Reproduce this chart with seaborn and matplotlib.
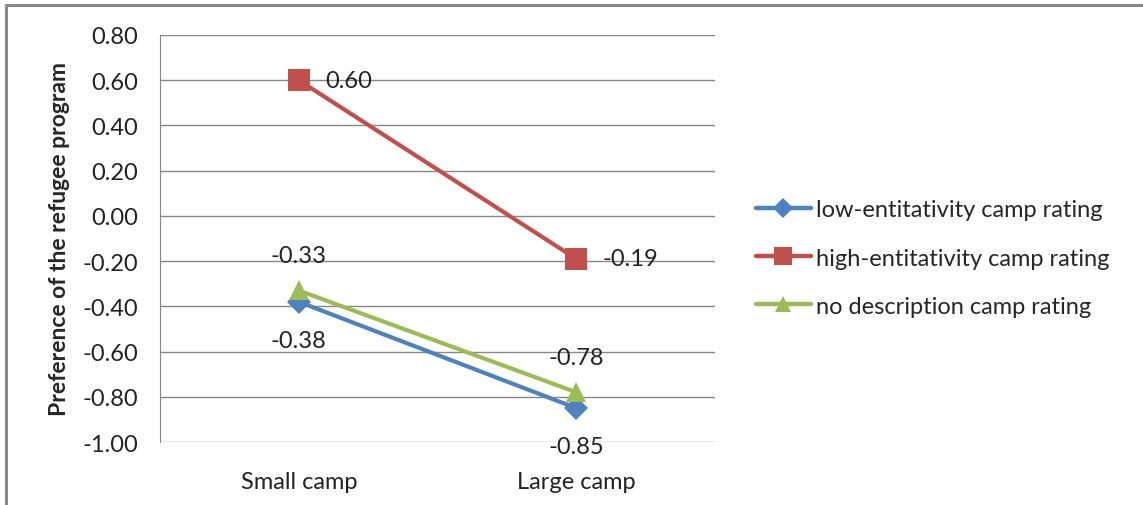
import pandas as pd
import seaborn as sns
import numpy as np
import matplotlib.pyplot as plt
from matplotlib.lines import Line2D

categories = ['Small camp', 'Large camp']
series_names = ['low-entitativity camp rating',
                'high-entitativity camp rating',
                'no description camp rating']
low_vals = [-0.38, -0.85]
high_vals = [0.60, -0.19]
nodesc_vals = [-0.33, -0.78]
yticks = [0.80, 0.60, 0.40, 0.20, 0.00, -0.20, -0.40, -0.60, -0.80, -1.00]

sns.set_style('white')
plt.rcParams['font.family'] = ['Lato', 'DejaVu Sans']

colors = ['#4F81BD', '#C0504D', '#9BBB59']
markers = ['D', 's', '^']
msizes = [12, 16, 14]
# label offsets (points) from each data point, per series
label_off = [(0, -28), (19, 0), (0, 25)]
label_ha = ['center', 'left', 'center']
fs = 17

data = pd.DataFrame({
    'camp': categories * 3,
    'series': np.repeat(series_names, 2),
    'value': low_vals + high_vals + nodesc_vals,
})

fig = plt.figure(figsize=(11.43, 5.06), dpi=100)
ax = fig.add_axes([0.140, 0.1245, 0.4855, 0.8044])

for i, name in enumerate(series_names):
    sub = data[data.series == name]
    x = np.arange(len(categories))
    ax.plot(x, sub.value.values, color=colors[i], lw=3, marker=markers[i],
            markersize=msizes[i], markeredgewidth=0, zorder=3)
    for xi, v in zip(x, sub.value.values):
        ax.annotate(f'{v:.2f}', (xi, v), xytext=label_off[i],
                    textcoords='offset points', ha=label_ha[i], va='center',
                    fontsize=fs, color='#222222')

ax.set_xlim(-0.5, 1.5)
ax.set_ylim(-1.0, 0.8)
ax.set_xticks(range(len(categories)))
ax.set_xticklabels(categories, fontsize=fs, color='#222222')
ax.set_yticks(yticks)
ax.set_yticklabels([f'{t:.2f}' for t in yticks], fontsize=fs, color='#222222')
ax.tick_params(axis='x', length=0, pad=21)
ax.tick_params(axis='y', length=6, width=1, color='#888888', pad=10, direction='out')
ax.yaxis.grid(True, color='#888888', lw=1)
ax.set_axisbelow(True)
for side in ['top', 'right', 'bottom']:
    ax.spines[side].set_visible(False)
ax.spines['left'].set_color('#888888')
ax.set_ylabel('Preference of the refugee program', fontsize=16.5,
              fontweight='bold', labelpad=9)

handles = [Line2D([0], [0], color=colors[i], lw=3.2, marker=markers[i],
                  markersize=msizes[i] * 0.85, markeredgewidth=0)
           for i in range(3)]
fig.legend(handles, series_names, loc='center left',
           bbox_to_anchor=(0.643, 0.488), frameon=False, fontsize=fs,
           handlelength=2.3, handletextpad=0.25, labelspacing=1.15)

# outer chart frame (only top and left edges visible)
fig.add_artist(Line2D([0.0052, 1.0], [0.988, 0.988], color='#888888', lw=2.2))
fig.add_artist(Line2D([0.0052, 0.0052], [0.0, 0.988], color='#888888', lw=2.2))

fig.savefig('out.png', dpi=100)
